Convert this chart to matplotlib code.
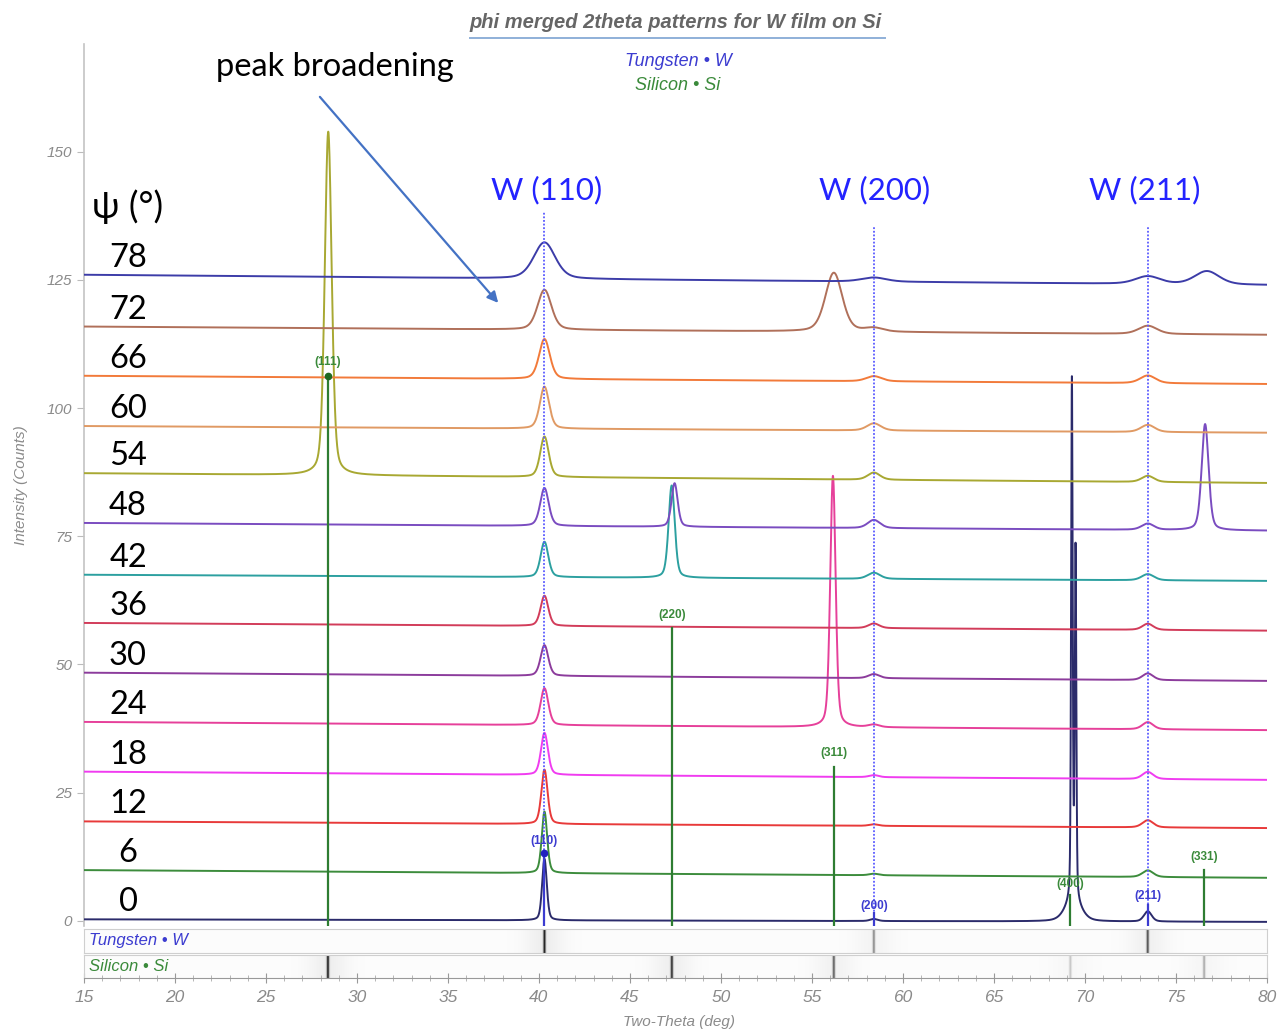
import numpy as np
import matplotlib
matplotlib.use("Agg")
import matplotlib.pyplot as plt
from matplotlib.lines import Line2D

# ---------------- data ----------------
psi = [0, 6, 12, 18, 24, 30, 36, 42, 48, 54, 60, 66, 72, 78]
colors = ["#2b2b6b", "#3c8c3c", "#e83a3a", "#f03cf0", "#e6409a", "#8c3c9c", "#d23c5a",
          "#2ca0a0", "#7a4cc0", "#a8a832", "#e09a64", "#f27a3a", "#b0705a", "#3c3ca8"]
base_left = [0.3, 9.9, 19.4, 29.1, 38.8, 48.4, 58.1, 67.5, 77.6, 87.3, 96.5, 106.3, 115.9, 126.0]
base_right = [-0.2, 8.4, 18.1, 27.5, 37.2, 46.8, 56.6, 66.3, 76.1, 85.4, 95.2, 104.7, 114.3, 124.0]

# W reflections (positions in 2theta) and peak heights above baseline per trace
w_pos = [40.3, 58.4, 73.45]
w_labels = ["(110)", "(200)", "(211)"]
w110_height = [12.0, 12.0, 10.6, 8.2, 7.2, 6.0, 5.9, 6.9, 7.4, 7.9, 8.2, 7.8, 7.8, 7.1]
w110_fwhm = [0.30, 0.35, 0.40, 0.45, 0.50, 0.50, 0.50, 0.50, 0.55, 0.55, 0.60, 0.70, 0.90, 1.40]
w200_height = [0.4, 0.3, 0.3, 0.4, 0.5, 0.8, 0.9, 1.2, 1.6, 1.4, 1.4, 1.0, 0.7, 0.8]
w211_height = [2.0, 1.3, 1.4, 1.4, 1.4, 1.3, 1.2, 1.2, 1.2, 1.2, 1.4, 1.5, 1.6, 1.5]
w200_fwhm = [0.5, 0.6, 0.6, 0.6, 0.7, 0.7, 0.7, 0.8, 0.8, 0.8, 0.9, 1.0, 1.2, 1.6]
w211_fwhm = [0.5, 0.7, 0.7, 0.7, 0.7, 0.7, 0.7, 0.8, 0.8, 0.8, 0.9, 1.0, 1.2, 1.6]

# Extra (substrate Si) peaks: trace psi, centre, height, fwhm
extra_psi = [0, 0, 0, 24, 42, 48, 48, 54, 72, 78]
extra_center = [69.28, 69.48, 69.35, 56.15, 47.29, 47.45, 76.60, 28.42, 56.20, 76.70]
extra_height = [101.0, 68.0, 4.0, 49.0, 18.0, 8.5, 20.7, 67.0, 11.5, 2.6]
extra_fwhm = [0.10, 0.10, 1.00, 0.35, 0.40, 0.40, 0.45, 0.45, 1.10, 1.60]

# Si reference sticks
si_pos = [28.4, 47.3, 56.2, 69.2, 76.55]
si_labels = ["(111)", "(220)", "(311)", "(400)", "(331)"]
si_stick = [106.3, 57.1, 30.0, 5.0, 10.0]
si_strip = [0.85, 0.80, 0.65, 0.30, 0.40]
w_stick = [13.3, 1.6, 3.0]
w_strip = [0.85, 0.50, 0.70]
w_line_top = [138.5, 135.5, 135.5]

# ---------------- helpers ----------------
x = np.linspace(15, 80, 6501)


def pv(xx, c, h, fwhm, eta=0.35):
    hw = fwhm / 2.0
    g = np.exp(-np.log(2) * ((xx - c) / hw) ** 2)
    lo = 1.0 / (1.0 + ((xx - c) / hw) ** 2)
    return h * (eta * lo + (1 - eta) * g)


W, H = 1283, 1032
fig = plt.figure(figsize=(W / 100, H / 100), dpi=100)
fig.patch.set_facecolor("white")
CAL = ["Lato", "DejaVu Sans"]

ax = fig.add_axes([84 / W, 1 - 926 / H, 1183 / W, 882 / H])
ax.set_xlim(15, 80)
ax.set_ylim(-1, 171)
for s in ["top", "right", "bottom"]:
    ax.spines[s].set_visible(False)
ax.spines["left"].set_color("#c4c4c4")
ax.spines["left"].set_linewidth(1.2)
ax.set_xticks([])
ax.set_yticks([0, 25, 50, 75, 100, 125, 150])
ax.tick_params(axis="y", length=5, color="#bbbbbb", labelsize=11, labelcolor="#8a8a8a")
for t in ax.get_yticklabels():
    t.set_fontstyle("italic")
    t.set_family("Liberation Sans")
ax.set_ylabel("Intensity (Counts)", fontsize=11, color="#8a8a8a", fontstyle="italic",
              family="Liberation Sans")
ax.yaxis.set_label_coords(-0.047, 0.5)

# traces
for i, p in enumerate(psi):
    base = base_left[i] + (base_right[i] - base_left[i]) * (x - 15) / 65.0
    y = base.copy()
    y += pv(x, w_pos[0], w110_height[i], w110_fwhm[i])
    y += pv(x, w_pos[1], w200_height[i], w200_fwhm[i])
    y += pv(x, w_pos[2], w211_height[i], w211_fwhm[i])
    for k, ep in enumerate(extra_psi):
        if ep == p:
            y += pv(x, extra_center[k], extra_height[k], extra_fwhm[k])
    ax.plot(x, y, color=colors[i], lw=1.4, zorder=3)
    ax.text(17.42, base_left[i] + 3.3, str(p), fontsize=23.5, family=CAL,
            ha="center", va="center", color="black", zorder=6)

ax.text(17.42, 139.3, "ψ (°)", fontsize=26, family=CAL,
        ha="center", va="center", color="black")

# W dotted reference lines
for k, wp in enumerate(w_pos):
    ax.plot([wp, wp], [-1, w_line_top[k]], color="#5a5aff", lw=1.3, ls=(0, (1, 1)), zorder=4)
    ax.plot([wp, wp], [-1, w_stick[k]], color="#3c3cd0", lw=1.6, zorder=5)
ax.plot([w_pos[0]], [w_stick[0]], "o", color="#2020c0", ms=4.5, zorder=6)
w_label_y = [15.6, 2.9, 4.9]
for k, wp in enumerate(w_pos):
    ax.text(wp, w_label_y[k], w_labels[k], fontsize=8.5, color="#3c3cd0", fontweight="bold",
            ha="center", va="center", family="Liberation Sans", zorder=7)

for xt, lab in zip([40.4, 58.45, 73.3], ["W (110)", "W (200)", "W (211)"]):
    ax.text(xt, 142.5, lab, fontsize=22.5, color="#2323ff", ha="center", va="center",
            family=CAL)

# Si sticks
si_label_y = [109.0, 59.7, 32.8, 7.2, 12.5]
for k, sp in enumerate(si_pos):
    ax.plot([sp, sp], [-1, si_stick[k]], color="#2e7d32", lw=1.6, zorder=5)
    ax.text(sp, si_label_y[k], si_labels[k], fontsize=8.5, color="#3a8a3a", fontweight="bold",
            ha="center", va="center", family="Liberation Sans", zorder=7)
ax.plot([si_pos[0]], [si_stick[0]], "o", color="#1e6a22", ms=4.5, zorder=6)

# peak broadening annotation
ax.text(28.8, 166.6, "peak broadening", fontsize=23.5, ha="center", va="center",
        family=CAL, color="black")
ax.annotate("", xy=(37.86, 120.1), xytext=(27.86, 161.1),
            arrowprops=dict(arrowstyle="-|>", color="#4472c4", lw=1.6, mutation_scale=16))

# ---------------- reference strips ----------------
def strip(axs, pos, inten, label, col):
    val = np.full_like(x, 0.025)
    for p_, it in zip(pos, inten):
        val += it * np.exp(-((x - p_) / 0.07) ** 2) + 0.14 * it * np.exp(-((x - p_) / 1.1) ** 2)
    val = np.clip(val, 0, 1)
    axs.imshow(np.tile(val, (2, 1)), extent=[15, 80, 0, 1], aspect="auto", cmap="Greys",
               vmin=0, vmax=1.05, interpolation="bilinear")
    axs.set_xlim(15, 80)
    axs.set_ylim(0, 1)
    axs.set_yticks([])
    for s in axs.spines.values():
        s.set_color("#cfcfcf")
    axs.text(0.004, 0.5, label, transform=axs.transAxes, fontsize=12, color=col,
             fontstyle="italic", ha="left", va="center", family="Liberation Sans")


s1 = fig.add_axes([84 / W, 1 - 953 / H, 1183 / W, 24 / H])
strip(s1, w_pos, w_strip, "Tungsten • W", "#3c3cd0")
s1.set_xticks([])
s2 = fig.add_axes([84 / W, 1 - 978 / H, 1183 / W, 23 / H])
strip(s2, si_pos, si_strip, "Silicon • Si", "#3a8a3a")
s2.set_xticks(range(15, 81, 5))
s2.set_xticks(range(15, 81, 1), minor=True)
s2.tick_params(axis="x", which="major", direction="inout", length=7, color="#999999",
               labelsize=12.5, labelcolor="#8a8a8a", pad=5)
s2.tick_params(axis="x", which="minor", direction="inout", length=4, color="#aaaaaa")
s2.spines["bottom"].set_color("#999999")
for t in s2.get_xticklabels():
    t.set_fontstyle("italic")
    t.set_family("Liberation Sans")

fig.text(679 / W, 1 - 1022 / H, "Two-Theta (deg)", fontsize=11, color="#8a8a8a",
         fontstyle="italic", ha="center", va="center", family="Liberation Sans")

# ---------------- title and legend ----------------
fig.text(676 / W, 1 - 22 / H, "phi merged 2theta patterns for W film on Si", fontsize=14.5,
         fontweight="bold", fontstyle="italic", color="#666666", ha="center", va="center",
         family="Liberation Sans")
fig.add_artist(Line2D([470 / W, 885 / W], [1 - 38 / H, 1 - 38 / H], color="#8fb0d8", lw=1.4,
                      transform=fig.transFigure))
fig.text(678 / W, 1 - 62 / H, "Tungsten • W", fontsize=13, color="#3c3cd0",
         fontstyle="italic", ha="center", va="center", family="Liberation Sans")
fig.text(678 / W, 1 - 85 / H, "Silicon • Si", fontsize=13, color="#3a8a3a",
         fontstyle="italic", ha="center", va="center", family="Liberation Sans")

fig.savefig("out.png", dpi=100, facecolor="white")
